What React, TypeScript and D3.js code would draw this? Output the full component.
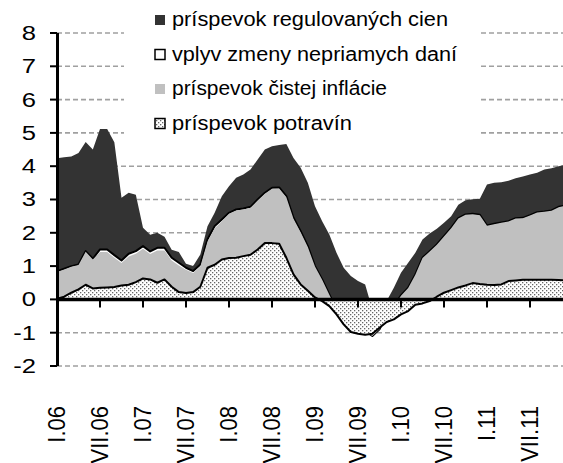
import React from 'react';
import * as d3 from 'd3';

// Monthly data I.06 – XII.11 (contributions, p.p.)
const food = [0.02,0.08,0.20,0.30,0.44,0.33,0.35,0.36,0.37,0.42,0.44,0.52,
  0.63,0.60,0.50,0.60,0.38,0.22,0.19,0.22,0.38,0.95,1.04,1.20,
  1.24,1.25,1.30,1.34,1.50,1.69,1.69,1.67,1.25,0.75,0.45,0.26,
  0.06,-0.05,-0.20,-0.45,-0.75,-0.98,-1.03,-1.06,-1.03,-0.85,-0.68,-0.60,
  -0.45,-0.35,-0.16,-0.12,-0.05,0.08,0.20,0.28,0.36,0.42,0.49,0.46,
  0.44,0.43,0.45,0.55,0.57,0.59,0.59,0.59,0.59,0.59,0.58,0.57];
const core = [0.80,0.82,0.78,0.73,0.99,0.87,1.07,1.06,0.88,0.67,0.85,0.85,
  0.89,0.76,0.97,0.87,0.79,0.80,0.70,0.57,0.61,0.79,1.10,1.14,
  1.33,1.42,1.40,1.41,1.47,1.48,1.63,1.66,1.82,1.67,1.57,1.31,
  0.93,0.64,0.34,0.15,0.20,0.23,0.18,0.11,-0.07,-0.05,0.23,0.40,
  0.56,0.69,0.90,1.36,1.49,1.56,1.69,1.86,2.07,2.12,2.07,2.07,
  1.77,1.83,1.85,1.79,1.86,1.85,1.93,2.02,2.04,2.07,2.19,2.24];
const tax = [0.02,0.02,0.02,0.02,0.02,0.02,0.08,0.08,0.08,0.08,0.08,0.08,
  0.08,0.08,0.08,0.08,0.08,0.08,0.06,0.06,0.06,0.06,0.06,0.06,
  0.03,0.03,0.03,0.03,0.03,0.03,0.03,0.03,0.03,0.03,0.03,0.03,
  0.01,0.01,0.01,0,0,0,0,0,0,0,0,0,
  0.01,0.01,0.01,0.01,0.01,0.01,0.01,0.01,0.01,0.01,0.01,0.01,
  0.01,0.01,0.01,0.01,0.01,0.01,0.01,0.01,0.01,0.01,0.01,0.01];
const regulated = [3.40,3.35,3.29,3.35,3.28,3.28,3.62,3.62,3.39,1.88,1.83,1.69,
  0.55,0.50,0.45,0.33,0.24,0.32,0.12,0.15,0.30,0.40,0.40,0.70,
  0.80,0.95,1.02,1.12,1.20,1.30,1.25,1.28,1.57,1.80,1.90,1.90,
  1.80,1.75,1.80,1.70,1.50,1.45,1.40,1.40,0.80,0.60,0.40,0.55,
  0.68,0.75,0.65,0.55,0.53,0.47,0.40,0.35,0.40,0.43,0.44,0.48,
  1.23,1.23,1.21,1.21,1.20,1.24,1.22,1.18,1.26,1.27,1.22,1.23];

const tickLabels = ['I.06','VII.06','I.07','VII.07','I.08','VII.08','I.09','VII.09','I.10','VII.10','I.11','VII.11'];
const yTicks = [-2,-1,0,1,2,3,4,5,6,7,8];
const legendLabels = ['príspevok regulovaných cien','vplyv zmeny nepriamych daní','príspevok čistej inflácie','príspevok potravín'];
const legendWidths = [276, 285, 215, 180];

const FONT = '"Liberation Sans", Arial, sans-serif';

export default function App() {
  const W = 563, H = 463;
  const x = d3.scaleLinear().domain([0, 66]).range([57, 530]);
  const y = d3.scaleLinear().domain([-2, 8]).range([366, 33]);

  const c1 = food.slice();
  const c2 = c1.map((v, i) => v + core[i]);
  const c3 = c2.map((v, i) => v + tax[i]);
  const c4 = c3.map((v, i) => v + regulated[i]);

  const area = (vals: number[]) =>
    d3.area<number>().x((_, i) => x(i)).y0(y(0)).y1((d) => y(d))(vals) || '';

  const gridVals = yTicks.filter((v) => v !== 0);
  const xTickIdx = tickLabels.map((_, k) => k * 6);

  return (
    <svg width={W} height={H} style={{ position: 'absolute', left: 0, top: 0, background: '#fff' }}>
      <defs>
        <pattern id="dots" width="4" height="4" patternUnits="userSpaceOnUse">
          <rect width="4" height="4" fill="#fff" />
          <rect x="0" y="0" width="1.3" height="1.3" fill="#666" />
          <rect x="2" y="2" width="1.3" height="1.3" fill="#666" />
        </pattern>
        <clipPath id="plot">
          <rect x={57} y={0} width={W - 57} height={H} />
        </clipPath>
      </defs>
      {gridVals.map((v) => (
        <line key={v} x1={57} x2={W} y1={y(v)} y2={y(v)} stroke="#a0a0a0" strokeWidth={1.6} strokeDasharray="5,3" />
      ))}
      <g clipPath="url(#plot)">
        <path d={area(c4)} fill="#333333" />
        <path d={area(c3)} fill="#ffffff" stroke="#000" strokeWidth={2} strokeLinejoin="round" />
        <path d={area(c2)} fill="#c0c0c0" />
        <path d={area(c1)} fill="url(#dots)" stroke="#000" strokeWidth={2} strokeLinejoin="round" />
      </g>
      <line x1={57.5} x2={57.5} y1={y(8)} y2={y(-2)} stroke="#000" strokeWidth={3} />
      {yTicks.map((v) => (
        <line key={v} x1={50} x2={57} y1={y(v)} y2={y(v)} stroke="#000" strokeWidth={2} />
      ))}
      <line x1={57} x2={W} y1={y(0)} y2={y(0)} stroke="#000" strokeWidth={3.5} />
      {xTickIdx.map((i) => (
        <line key={i} x1={x(i)} x2={x(i)} y1={y(0)} y2={y(0) + 8} stroke="#000" strokeWidth={2} />
      ))}
      {yTicks.map((v) => (
        <text key={v} transform={`translate(36,${y(v)}) scale(1.28,1)`} textAnchor="end" dominantBaseline="central"
          fontFamily={FONT} fontSize={20} fill="#000">{v}</text>
      ))}
      {tickLabels.map((t, k) => (
        <text key={t} transform={`translate(${x(k * 6)},406) scale(1.1,1) rotate(-90)`} textAnchor="end" dominantBaseline="central"
          fontFamily={FONT} fontSize={22} fill="#000">{t}</text>
      ))}
      <rect x={124} y={0} width={354} height={139} fill="#fff" />
      {legendLabels.map((t, k) => {
        const base = 26 + k * 34.5;
        const fills = ['#333333', '#ffffff', '#c0c0c0', 'url(#dots)'];
        const strokes = ['none', '#000', 'none', '#000'];
        return (
          <g key={t}>
            <rect x={155} y={base - 11} width={10} height={10} fill={fills[k]} stroke={strokes[k]} strokeWidth={1.5} />
            <text x={172} y={base} fontFamily={FONT} fontSize={20} fill="#000"
              textLength={legendWidths[k]} lengthAdjust="spacingAndGlyphs">{t}</text>
          </g>
        );
      })}
    </svg>
  );
}
